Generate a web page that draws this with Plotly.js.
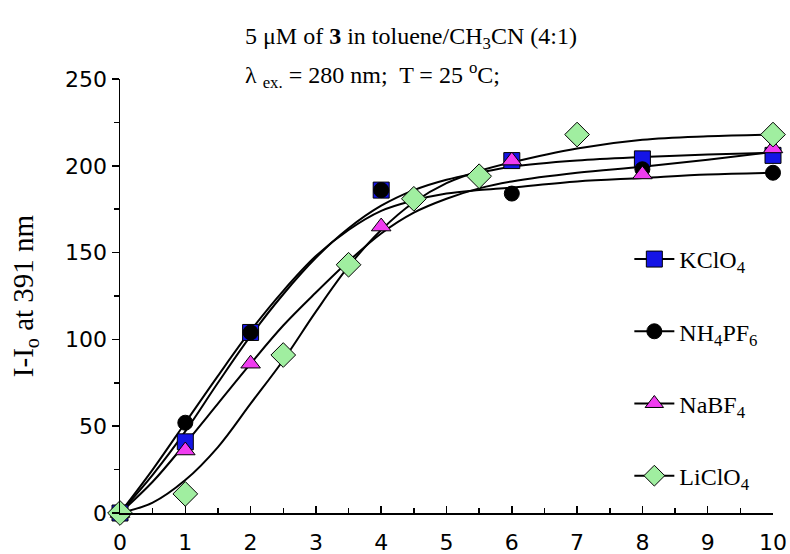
<!DOCTYPE html>
<html>
<head>
<meta charset="utf-8">
<script src="https://cdn.plot.ly/plotly-3.0.1.min.js"></script>
<style>html,body{margin:0;padding:0;background:#fff}#chart{width:790px;height:554px}</style>
</head>
<body>
<div id="chart"></div>
<script>
// Measured data points (salt equivalents vs I - Io at 391 nm)
const seriesNames = ["KClO<sub>4</sub>", "NH<sub>4</sub>PF<sub>6</sub>", "NaBF<sub>4</sub>", "LiClO<sub>4</sub>"];
const kclo4X = [0, 1, 2, 4, 6, 8, 10];
const kclo4Y = [0, 41, 104, 186, 203, 204, 206];
const nh4pf6X = [0, 1, 2, 4, 6, 8, 10];
const nh4pf6Y = [0, 52, 104, 186, 184, 198, 196];
const nabf4X = [0, 1, 2, 4, 6, 8, 10];
const nabf4Y = [0, 36, 86, 165, 203, 195, 210];
const liclo4X = [0, 1, 2.5, 3.5, 4.5, 5.5, 7, 10];
const liclo4Y = [0, 11, 91, 143, 181, 194, 218, 218];

// Fitted curves
const fitX = [0, 0.5, 1, 1.5, 2, 2.5, 3, 3.5, 4, 4.5, 5, 5.5, 6, 7, 8, 9, 10];
const kclo4Fit = [0, 22, 47, 75, 102, 126, 147, 164, 177, 186, 192, 196, 199.5, 203, 205, 206.5, 207.5];
const nh4pf6Fit = [0, 25, 52, 79, 105, 128, 148, 163, 174, 180, 184, 186, 187.5, 191, 193, 195, 196];
const nabf4Fit = [0, 18, 40, 63, 86, 108, 127, 145, 161, 173, 181, 187, 191, 196, 199.5, 203.5, 208];
const liclo4Fit = [0, 6, 19, 38, 63, 88, 116, 142, 163, 179, 190, 197, 202, 210, 215, 217, 218];

const xTicks = [0, 1, 2, 3, 4, 5, 6, 7, 8, 9, 10];
const yTicks = [0, 50, 100, 150, 200, 250];

const colors = ["#1414e6", "#000000", "#f03cf0", "#a0eea0"];
const symbols = ["square", "circle", "triangle-up", "diamond"];
const sizes = [16, 15, 17, 19];

const xs = [kclo4X, nh4pf6X, nabf4X, liclo4X];
const ys = [kclo4Y, nh4pf6Y, nabf4Y, liclo4Y];
const fits = [kclo4Fit, nh4pf6Fit, nabf4Fit, liclo4Fit];

const traces = [];
for (let i = 0; i < 4; i++) {
  traces.push({
    x: fitX, y: fits[i], mode: "lines", type: "scatter",
    line: {color: "#000", width: 2, shape: "spline", smoothing: 1},
    showlegend: false, hoverinfo: "skip", cliponaxis: false
  });
}
for (let i = 0; i < 4; i++) {
  traces.push({
    x: xs[i], y: ys[i], mode: "markers", type: "scatter",
    marker: {symbol: symbols[i], size: sizes[i], color: colors[i], line: {color: "#000", width: 1}},
    showlegend: false, cliponaxis: false
  });
}
for (let i = 0; i < 4; i++) {
  traces.push({
    x: [null], y: [null], mode: "lines+markers", type: "scatter",
    name: seriesNames[i], legendgroup: "g" + i,
    line: {color: "#000", width: 2},
    marker: {symbol: symbols[i], size: sizes[i], color: colors[i], line: {color: "#000", width: 1}}
  });
}

const tickFont = {family: "DejaVu Sans, Liberation Sans, Arial", size: 22, color: "#000"};
const serif = "Liberation Serif, Times New Roman, serif";

const layout = {
  width: 790, height: 554,
  margin: {l: 120, r: 17, t: 79, b: 41},
  paper_bgcolor: "#fff", plot_bgcolor: "#fff",
  showlegend: true,
  legend: {
    x: 0.78, y: 0.636, xanchor: "left", yanchor: "top",
    font: {family: serif, size: 24, color: "#000"},
    tracegroupgap: 38, bgcolor: "rgba(0,0,0,0)", itemwidth: 40
  },
  xaxis: {
    range: [0, 10], tickvals: xTicks, ticktext: xTicks.map(String),
    showgrid: false, zeroline: false, showline: true, linecolor: "#000", linewidth: 1.5,
    ticks: "inside", ticklen: 7, tickwidth: 1.5, tickcolor: "#000",
    minor: {dtick: 0.5, tick0: 0, ticks: "inside", ticklen: 5, tickwidth: 1.5, tickcolor: "#000", showgrid: false},
    tickfont: tickFont, ticklabelstandoff: 9, fixedrange: true
  },
  yaxis: {
    range: [0, 250], tickvals: yTicks, ticktext: yTicks.map(String),
    showgrid: false, zeroline: false, showline: true, linecolor: "#000", linewidth: 1.5,
    ticks: "outside", ticklen: 7, tickwidth: 1.5, tickcolor: "#000",
    minor: {dtick: 25, tick0: 0, ticks: "outside", ticklen: 5, tickwidth: 1.5, tickcolor: "#000", showgrid: false},
    tickfont: tickFont, fixedrange: true,
    title: {text: "I-I<sub>o</sub> at 391 nm", font: {family: serif, size: 29, color: "#000"}, standoff: 23}
  },
  annotations: [
    {xref: "paper", yref: "paper", x: (243 - 120) / 653, y: 1 + (79 - 38) / 434, xanchor: "left", yanchor: "middle",
     text: "5 μM of <b>3</b> in toluene/CH<sub>3</sub>CN (4:1)", showarrow: false,
     font: {family: serif, size: 24, color: "#000"}},
    {xref: "paper", yref: "paper", x: (243 - 120) / 653, y: 1 + (79 - 75) / 434, xanchor: "left", yanchor: "middle",
     text: "λ <sub>ex.</sub> = 280 nm;  T = 25 <sup>o</sup>C;", showarrow: false,
     font: {family: serif, size: 24, color: "#000"}}
  ]
};

Plotly.newPlot("chart", traces, layout, {displayModeBar: false, staticPlot: true});
</script>
</body>
</html>
